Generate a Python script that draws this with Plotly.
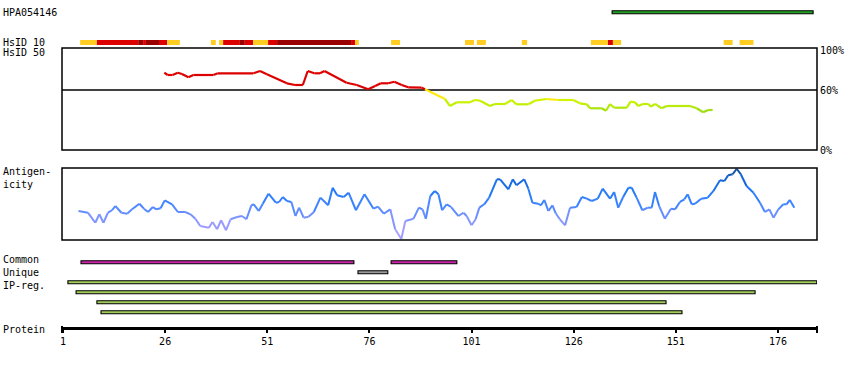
import plotly.graph_objects as go
from plotly.colors import sample_colorscale

FONT = "DejaVu Sans Mono"
W, H = 850, 370

# ---------------- data ----------------
antibody_id = "HPA054146"
tick_residues = [1, 26, 51, 76, 101, 126, 151, 176]

# antigen (PrEST) region shown at the top
antigen_start = [135.4]
antigen_end = [184.6]

# HsID 10 row: segments (residue start, end, level 1=low 2=mid 3=high)
hs10_start = [5.2, 9.3, 19.4, 20.6, 21.3, 24.5, 26.5, 37.2, 39.2, 40.2, 44.3, 45.5, 47.5,
              51.2, 53.4, 71.5, 72.5, 81.3, 99.4, 102.3, 113.3, 130.2, 134.4, 135.6, 162.7, 166.6]
hs10_end = [9.3, 19.4, 20.6, 21.3, 24.5, 26.5, 29.6, 38.4, 40.2, 44.3, 45.5, 47.5, 51.2,
            53.4, 71.5, 72.5, 73.4, 83.5, 101.6, 104.5, 114.6, 134.4, 135.6, 137.6, 164.9, 170.0]
hs10_level = [1, 2, 3, 2, 3, 2, 1, 1, 1, 2, 3, 2, 1,
              2, 3, 2, 1, 1, 1, 1, 1, 1, 2, 1, 1, 1]

# HsID 50 identity curve (%)
hs50_res = [25.8, 26.6, 27.8, 29.1, 30.1, 31.7, 32.9, 37.8, 38.9, 47.6, 49.2, 50.9, 55.8, 57.8,
            59.7, 60.9, 62.5, 63.9, 65.0, 70.4, 72.9, 75.7, 77.4, 78.8, 80.6, 82.1, 83.9, 85.5,
            88.8, 89.6, 94.5, 95.7, 97.4, 100.6, 101.8, 103.1, 105.5, 106.7, 109.2, 110.8, 112.0,
            114.9, 116.5, 119.4, 122.2, 125.9, 127.5, 129.2, 130.0, 132.9, 133.9, 134.9, 135.9,
            139.0, 139.9, 141.0, 141.8, 142.9, 144.3, 144.9, 145.9, 146.5, 147.5, 148.8, 154.5,
            156.1, 157.7, 158.9, 160.0]
hs50_pct = [77.3, 75.0, 75.0, 77.3, 76.0, 72.7, 75.0, 75.0, 76.7, 76.7, 79.0, 75.7, 66.7, 65.0,
            65.0, 79.0, 76.7, 76.7, 79.0, 67.3, 65.0, 60.7, 64.0, 66.7, 66.7, 68.3, 65.0, 62.7,
            62.3, 60.7, 51.0, 44.0, 47.7, 47.7, 50.0, 49.3, 44.0, 46.0, 46.0, 50.0, 45.7,
            45.7, 49.3, 51.0, 50.0, 50.0, 46.7, 45.7, 41.7, 41.7, 39.3, 46.0, 42.3,
            42.3, 48.3, 47.7, 44.0, 46.0, 46.0, 43.3, 46.0, 44.7, 41.7, 44.0, 44.0,
            41.7, 37.7, 40.0, 40.0]

# Antigenicity profile (relative score, 0-100)
ag_res = [4.8, 7.1, 8.9, 9.9, 10.9, 12.0, 13.0, 13.8, 15.3, 16.7, 17.9, 19.7, 20.8, 21.8, 23.0,
          23.8, 24.9, 25.9, 27.7, 29.1, 30.9, 32.2, 33.4, 34.6, 36.7, 37.6, 38.7, 39.7, 40.9,
          42.0, 43.6, 44.8, 45.9, 47.1, 47.7, 48.9, 49.9, 51.3, 53.1, 53.9, 54.8, 55.8, 56.9,
          57.9, 58.8, 59.9, 61.1, 62.4, 64.0, 65.9, 67.0, 68.1, 69.7, 70.9, 72.7, 74.8, 77.0,
          78.1, 79.5, 81.1, 82.3, 83.8, 84.8, 86.8, 88.1, 89.0, 89.8, 90.9, 92.0, 92.9, 93.8,
          94.9, 96.0, 97.8, 99.0, 99.8, 101.0, 102.0, 102.9, 104.1, 105.3, 107.2, 108.0, 110.0,
          111.1, 112.0, 113.9, 114.9, 115.9, 117.3, 118.0, 118.8, 119.8, 120.8, 121.6, 122.6,
          123.9, 125.1, 126.7, 128.0, 129.2, 130.4, 131.9, 133.1, 134.9, 135.9, 136.9, 138.1,
          139.4, 140.2, 141.4, 142.8, 144.1, 145.1, 145.9, 146.9, 148.3, 149.8, 150.8, 152.0,
          153.1, 153.9, 154.9, 155.7, 157.2, 158.8, 160.2, 161.8, 162.9, 163.8, 164.9, 165.9,
          166.9, 168.3, 170.0, 171.6, 172.8, 173.9, 174.9, 176.1, 177.3, 178.1, 178.9, 180.0]
ag_val = [40.3, 37.9, 24.0, 35.7, 24.0, 37.9, 41.3, 47.2, 37.9, 36.5, 42.6, 50.4, 43.5, 38.9, 45.8,
          42.6, 44.0, 55.1, 49.6, 38.9, 38.9, 35.7, 29.6, 19.4, 17.1, 25.0, 14.9, 27.4, 13.5,
          28.8, 31.9, 33.3, 28.8, 48.2, 49.6, 40.3, 50.4, 64.3, 51.8, 52.8, 59.7, 54.2, 52.8,
          33.3, 44.9, 31.0, 32.4, 38.9, 58.8, 48.2, 72.6, 62.1, 59.7, 65.7, 41.3, 63.5, 43.5,
          46.3, 36.5, 42.6, 14.9, 1.4, 26.4, 29.6, 44.9, 42.6, 29.6, 61.1, 68.1, 63.5, 41.3,
          49.6, 45.8, 33.3, 37.9, 33.3, 20.4, 28.8, 44.9, 49.6, 58.8, 84.3, 84.3, 70.4,
          84.3, 76.0, 84.3, 71.3, 51.8, 50.4, 48.2, 55.6, 40.3, 48.2, 37.1, 28.8,
          20.4, 44.9, 45.8, 59.7, 57.4, 54.2, 57.4, 71.3, 57.4, 66.7, 44.9, 59.7,
          72.6, 72.6, 58.8, 41.3, 44.9, 44.9, 66.7, 47.2, 29.6, 43.5, 42.6, 52.8,
          56.5, 63.5, 49.6, 50.4, 57.4, 58.8, 68.1, 82.9, 81.9, 89.9, 91.3, 99.0,
          91.3, 75.0, 65.7, 51.8, 38.9, 42.6, 31.0, 42.6, 49.6, 49.6, 55.6, 44.9]

# Feature tracks
common_start = [5.4, 81.3]
common_end = [72.2, 97.4]
unique_start = [73.2]
unique_end = [80.5]
ipreg_start = [2.2, 4.2, 9.3, 10.3]
ipreg_end = [185.5, 170.4, 148.6, 152.5]

assert len(ag_res) == len(ag_val)
assert len(hs50_res) == len(hs50_pct)

# ---------------- styling ----------------
def py(px):
    return 1 - px / H

HS10_COLORS = {1: "#FFCC22", 2: "#DD0000", 3: "#990000"}
AG_SCALE = [[0.0, "#B0A4FF"], [0.2, "#9C9CFF"], [0.35, "#7090FF"], [0.5, "#4084FF"],
            [0.7, "#1E78F5"], [0.85, "#1464D2"], [1.0, "#0A4A96"]]
LOW_SCALE = [[0.0, "#8CD41E"], [0.6, "#BCEE06"], [1.0, "#D4F400"]]


def hs50_color(v):
    if v >= 60:
        return "#DD0000"
    if v >= 50.3:
        return "#FFEA10"
    t = min(max((v - 36) / (50.3 - 36), 0), 1)
    return sample_colorscale(LOW_SCALE, [t])[0]


def ag_color(v):
    return sample_colorscale(AG_SCALE, [min(max(v / 100, 0), 1)])[0]


fig = go.Figure()

# HsID 50 curve, coloured per segment
for i in range(len(hs50_res) - 1):
    v = (hs50_pct[i] + hs50_pct[i + 1]) / 2
    fig.add_trace(go.Scatter(x=hs50_res[i:i + 2], y=hs50_pct[i:i + 2], mode="lines",
                             line=dict(color=hs50_color(v), width=2.2),
                             xaxis="x", yaxis="y2", hoverinfo="skip", showlegend=False))

# Antigenicity curve, coloured per segment
for i in range(len(ag_res) - 1):
    v = (ag_val[i] + ag_val[i + 1]) / 2
    fig.add_trace(go.Scatter(x=ag_res[i:i + 2], y=ag_val[i:i + 2], mode="lines",
                             line=dict(color=ag_color(v), width=2),
                             xaxis="x", yaxis="y3", hoverinfo="skip", showlegend=False))

shapes = []
# panel frames
for ya in ("y2", "y3"):
    shapes.append(dict(type="rect", xref="x domain", yref=f"{ya} domain", x0=0, x1=1, y0=0, y1=1,
                       line=dict(color="black", width=1.5), layer="above"))
# 60% reference line
shapes.append(dict(type="line", xref="x domain", yref="y2", x0=0, x1=1, y0=60, y1=60,
                   line=dict(color="black", width=1.5), layer="below"))

# HsID 10 row
for s, e, lv in zip(hs10_start, hs10_end, hs10_level):
    shapes.append(dict(type="rect", xref="x", yref="paper", x0=s, x1=e, y0=py(45), y1=py(40),
                       fillcolor=HS10_COLORS[lv], line=dict(width=0)))


def bar_row(starts, ends, top_px, color):
    for s, e in zip(starts, ends):
        shapes.append(dict(type="rect", xref="x", yref="paper", x0=s, x1=e,
                           y0=py(top_px + 3.6), y1=py(top_px + 0.6),
                           fillcolor=color, line=dict(color="black", width=1.1)))


bar_row(antigen_start, antigen_end, 10.2, "#22A022")
bar_row(common_start, common_end, 260.2, "#CC22AA")
bar_row(unique_start, unique_end, 270.2, "#999999")
for k, (s, e) in enumerate(zip(ipreg_start, ipreg_end)):
    bar_row([s], [e], 280.2 + 10 * k, "#A2CC5A")

# end ticks of protein axis
for xd in (0, 1):
    shapes.append(dict(type="line", xref="x domain", yref="paper", x0=xd, x1=xd,
                       y0=py(333), y1=py(326), line=dict(color="black", width=2)))

annotations = []
left_labels = [(antibody_id, 12.7), ("HsID 10", 42.3), ("HsID 50", 52.7),
               ("Antigen-<br>icity", 178.3), ("Common<br>Unique<br>IP-reg.", 272.7),
               ("Protein", 329.3)]
for txt, ypx in left_labels:
    annotations.append(dict(text=txt, xref="paper", yref="paper", x=3 / W, y=py(ypx),
                            xanchor="left", yanchor="middle", align="left", showarrow=False,
                            borderpad=0, borderwidth=0,
                            font=dict(family=FONT, size=10, color="black")))

fig.update_layout(
    template="none",
    width=W, height=H, autosize=False,
    margin=dict(l=0, r=0, t=0, b=0, pad=0, autoexpand=False),
    paper_bgcolor="white", plot_bgcolor="white",
    showlegend=False,
    shapes=shapes, annotations=annotations,
    xaxis=dict(domain=[62 / W, 817 / W], range=[0.755, 185.55], anchor="free",
               position=py(327.5), automargin=False,
               showgrid=False, zeroline=False, showline=True, linecolor="black", linewidth=3,
               ticks="outside", ticklen=3, tickwidth=2, tickcolor="black",
               tickvals=tick_residues, ticktext=[str(t) for t in tick_residues],
               tickfont=dict(family=FONT, size=10, color="black"), fixedrange=True),
    yaxis2=dict(domain=[py(150), py(48)], range=[0, 102], anchor="x", side="right",
                automargin=False, ticklabelstandoff=2,
                showgrid=False, zeroline=False, showline=False, ticks="",
                tickvals=[0, 60, 100], ticktext=["0%", "60%", "100%"],
                tickfont=dict(family=FONT, size=10, color="black"), fixedrange=True),
    yaxis3=dict(domain=[py(240), py(168)], range=[0, 100], anchor="x", visible=False,
                automargin=False, fixedrange=True),
)

fig.write_html("out.html", config={"displayModeBar": False},
               post_script="document.body.style.margin='0';document.body.style.overflow='hidden';")
